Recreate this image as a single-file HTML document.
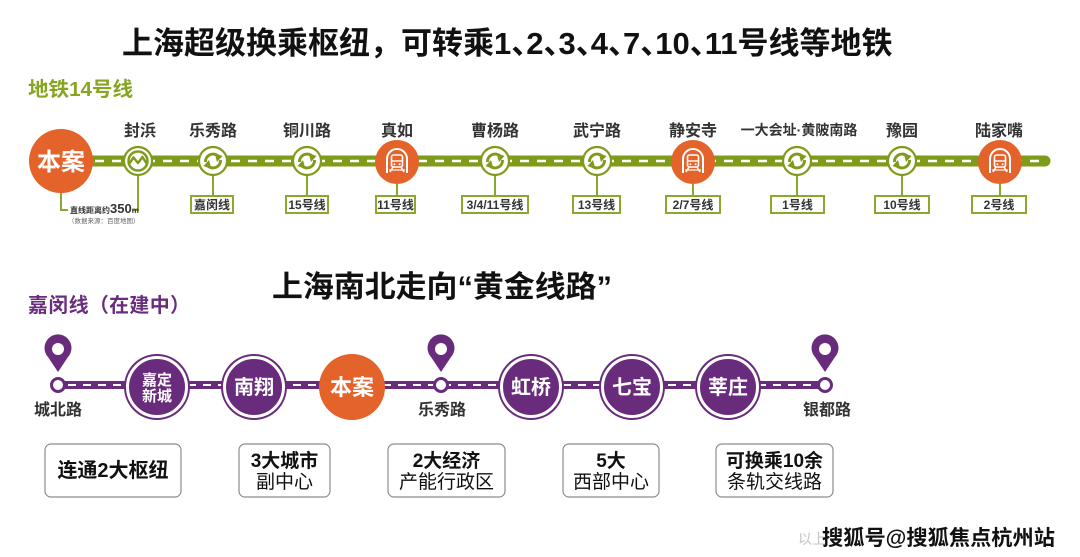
<!DOCTYPE html>
<html><head><meta charset="utf-8">
<style>
html,body{margin:0;padding:0;background:#fff;}
#wrap{position:relative;width:1080px;height:557px;overflow:hidden;background:#fff;font-family:"Liberation Sans","Noto Sans CJK SC",sans-serif;}
#t1{position:absolute;left:122px;top:28px;font-size:31px;line-height:31px;font-weight:bold;color:#111;white-space:nowrap;}
#t1 .d{display:inline-block;width:15px;overflow:visible;}
svg{position:absolute;left:0;top:0;}
</style></head><body>
<div id="wrap">
<div id="t1">上海超级换乘枢纽，可转乘1<span class="d">、</span>2<span class="d">、</span>3<span class="d">、</span>4<span class="d">、</span>7<span class="d">、</span>10<span class="d">、</span>11号线等地铁</div>
<svg width="1080" height="557" viewBox="0 0 1080 557" xmlns="http://www.w3.org/2000/svg" font-family="Liberation Sans, Noto Sans CJK SC, sans-serif">
<defs>
  <g id="xfer">
    <circle r="14" fill="#fff" stroke="#7f9b1a" stroke-width="2.2"/>
    <path d="M -7.5 1 A 7.5 7.5 0 0 1 5 -5" fill="none" stroke="#7f9b1a" stroke-width="3"/>
    <polygon points="1.5,-8 9.5,-5 4,1" fill="#7f9b1a"/>
    <path d="M 7.5 -1 A 7.5 7.5 0 0 1 -5 5" fill="none" stroke="#7f9b1a" stroke-width="3"/>
    <polygon points="-1.5,8 -9.5,5 -4,-1" fill="#7f9b1a"/>
  </g>
  <g id="train">
    <circle r="22" fill="#e4632b"/>
    <path d="M -10 11 L -10 -3 A 10 10 0 0 1 10 -3 L 10 11" fill="none" stroke="#fff" stroke-width="2"/>
    <rect x="-5.5" y="-7" width="11" height="12" rx="2" fill="none" stroke="#fff" stroke-width="1.6"/>
    <line x1="-5.5" y1="-1" x2="5.5" y2="-1" stroke="#fff" stroke-width="1.4"/>
    <circle cx="-2.6" cy="2.2" r="1" fill="#fff"/>
    <circle cx="2.6" cy="2.2" r="1" fill="#fff"/>
    <line x1="-4" y1="5" x2="-7" y2="10" stroke="#fff" stroke-width="1.5"/>
    <line x1="4" y1="5" x2="7" y2="10" stroke="#fff" stroke-width="1.5"/>
    <line x1="-8" y1="8" x2="8" y2="8" stroke="#fff" stroke-width="1.2"/>
  </g>
  <g id="pnode">
    <circle r="33" fill="#692c7c"/>
    <circle r="29.5" fill="none" stroke="#fff" stroke-width="3"/>
  </g>
  <g id="pin">
    <path d="M 0 36 L -10 21 A 13.5 13.5 0 1 1 10 21 Z" fill="#692c7c"/>
    <circle cx="0" cy="13" r="6" fill="#fff"/>
    <circle cx="0" cy="49" r="6.5" fill="#fff" stroke="#692c7c" stroke-width="3"/>
  </g>
</defs>

<!-- Line 14 heading -->
<text x="28" y="96" font-size="20" font-weight="bold" fill="#86a520" textLength="105" lengthAdjust="spacingAndGlyphs">地铁14号线</text>

<!-- green line -->
<line x1="60" y1="161" x2="1045" y2="161" stroke="#7f9b1a" stroke-width="11" stroke-linecap="round"/>
<line x1="95" y1="161" x2="1043" y2="161" stroke="#fff" stroke-width="2.6" stroke-dasharray="9 8"/>

<!-- stems and boxes -->
<g stroke="#8aa82a" stroke-width="2" fill="#fff">
  <line x1="213" y1="175" x2="213" y2="196"/>
  <line x1="307" y1="175" x2="307" y2="196"/>
  <line x1="397" y1="184" x2="397" y2="196"/>
  <line x1="495" y1="175" x2="495" y2="196"/>
  <line x1="597" y1="175" x2="597" y2="196"/>
  <line x1="693" y1="184" x2="693" y2="196"/>
  <line x1="797" y1="175" x2="797" y2="196"/>
  <line x1="902" y1="175" x2="902" y2="196"/>
  <line x1="1000" y1="184" x2="1000" y2="196"/>
  <rect x="191" y="196" width="42" height="17"/>
  <rect x="286" y="196" width="42" height="17"/>
  <rect x="376" y="196" width="39" height="17"/>
  <rect x="462" y="196" width="66" height="17"/>
  <rect x="573" y="196" width="47" height="17"/>
  <rect x="666" y="196" width="54" height="17"/>
  <rect x="771" y="196" width="53" height="17"/>
  <rect x="875" y="196" width="54" height="17"/>
  <rect x="972" y="196" width="54" height="17"/>
  <!-- bracket -->
  <polyline points="61,190 61,210 68,210" fill="none"/>
  <polyline points="132,210 138,210 138,175" fill="none"/>
</g>
<g font-size="12" fill="#333" text-anchor="middle" font-weight="bold">
  <text x="212" y="209">嘉闵线</text>
  <text x="307" y="209">15号线</text>
  <text x="395.5" y="209">11号线</text>
  <text x="495" y="209">3/4/11号线</text>
  <text x="596.5" y="209">13号线</text>
  <text x="693" y="209">2/7号线</text>
  <text x="797.5" y="209">1号线</text>
  <text x="902" y="209">10号线</text>
  <text x="999" y="209">2号线</text>
</g>
<text x="70" y="213" font-size="8" fill="#333" font-weight="bold">直线距离约<tspan font-size="13">350</tspan><tspan font-size="8">m</tspan></text>
<text x="68" y="223" font-size="6.5" fill="#666">（数据来源：百度地图）</text>

<!-- top nodes -->
<circle cx="61" cy="161" r="32" fill="#e4632b"/>
<text x="61" y="170" font-size="24" fill="#fff" text-anchor="middle" font-weight="bold">本案</text>

<g transform="translate(138,161)">
  <circle r="14" fill="#fff" stroke="#7f9b1a" stroke-width="2.2"/>
  <circle r="9.5" fill="none" stroke="#7f9b1a" stroke-width="2.5"/>
  <path d="M -9 3 L -4.5 -3.5 L 0 2 L 4.5 -4 L 9 3" fill="none" stroke="#7f9b1a" stroke-width="2.5" stroke-linejoin="round"/>
</g>
<use href="#xfer" x="213" y="161"/>
<use href="#xfer" x="307" y="161"/>
<use href="#train" x="397" y="162"/>
<use href="#xfer" x="495" y="161"/>
<use href="#xfer" x="597" y="161"/>
<use href="#train" x="693" y="162"/>
<use href="#xfer" x="797" y="161"/>
<use href="#xfer" x="902" y="161"/>
<use href="#train" x="1000" y="162"/>

<g font-size="16" fill="#333" text-anchor="middle" font-weight="bold">
  <text x="140" y="136">封浜</text>
  <text x="213" y="136">乐秀路</text>
  <text x="307" y="136">铜川路</text>
  <text x="397" y="136">真如</text>
  <text x="495" y="136">曹杨路</text>
  <text x="597" y="136">武宁路</text>
  <text x="693" y="136">静安寺</text>
  <text x="799" y="135" font-size="14">一大会址·黄陂南路</text>
  <text x="902" y="136">豫园</text>
  <text x="999" y="136">陆家嘴</text>
</g>

<!-- second title -->
<text x="272" y="297" font-size="30" font-weight="bold" fill="#111" textLength="340" lengthAdjust="spacingAndGlyphs">上海南北走向“黄金线路”</text>
<text x="28" y="312" font-size="20" font-weight="bold" fill="#6a2d7e" textLength="162" lengthAdjust="spacing">嘉闵线（在建中）</text>

<!-- purple line -->
<line x1="58" y1="385" x2="825" y2="385" stroke="#692c7c" stroke-width="8"/>
<line x1="68" y1="385" x2="815" y2="385" stroke="#fff" stroke-width="2" stroke-dasharray="8 7"/>

<use href="#pin" x="58" y="336"/>
<use href="#pin" x="441" y="336"/>
<use href="#pin" x="825" y="336"/>

<use href="#pnode" x="157" y="387"/>
<use href="#pnode" x="254" y="387"/>
<circle cx="352" cy="387" r="33" fill="#e4632b"/>
<use href="#pnode" x="531" y="387"/>
<use href="#pnode" x="632" y="387"/>
<use href="#pnode" x="728" y="387"/>

<g fill="#fff" text-anchor="middle" font-weight="bold">
  <text x="157" y="385" font-size="15">嘉定</text>
  <text x="157" y="401" font-size="15">新城</text>
  <text x="254" y="394" font-size="20">南翔</text>
  <text x="352" y="395" font-size="22">本案</text>
  <text x="531" y="394" font-size="20">虹桥</text>
  <text x="632" y="394" font-size="20">七宝</text>
  <text x="728" y="394" font-size="20">莘庄</text>
</g>
<g font-size="16" fill="#333" text-anchor="middle" font-weight="bold">
  <text x="58" y="415">城北路</text>
  <text x="442" y="415">乐秀路</text>
  <text x="827" y="415">银都路</text>
</g>

<!-- bottom boxes -->
<g fill="#fff" stroke="#8c8c8c" stroke-width="1.2">
  <rect x="45" y="444" width="136" height="53" rx="6"/>
  <rect x="239" y="444" width="91" height="53" rx="6"/>
  <rect x="388" y="444" width="117" height="53" rx="6"/>
  <rect x="563" y="444" width="96" height="53" rx="6"/>
  <rect x="716" y="444" width="117" height="53" rx="6"/>
</g>
<g fill="#111" text-anchor="middle" font-size="19">
  <text x="113" y="477" font-size="20" font-weight="bold">连通2大枢纽</text>
  <text x="284.5" y="467" font-weight="bold">3大城市</text>
  <text x="284.5" y="488">副中心</text>
  <text x="446.5" y="467" font-weight="bold">2大经济</text>
  <text x="446.5" y="488">产能行政区</text>
  <text x="611" y="467" font-weight="bold">5大</text>
  <text x="611" y="488">西部中心</text>
  <text x="774.5" y="467" font-weight="bold">可换乘10余</text>
  <text x="774.5" y="488">条轨交线路</text>
</g>

<!-- watermark -->
<text x="798" y="544" font-size="14" fill="#c4c4c4">以上</text>
<text x="822" y="545" font-size="21" font-weight="bold" fill="#111" textLength="233" lengthAdjust="spacingAndGlyphs">搜狐号@搜狐焦点杭州站</text>
</svg>
</div>
</body></html>
